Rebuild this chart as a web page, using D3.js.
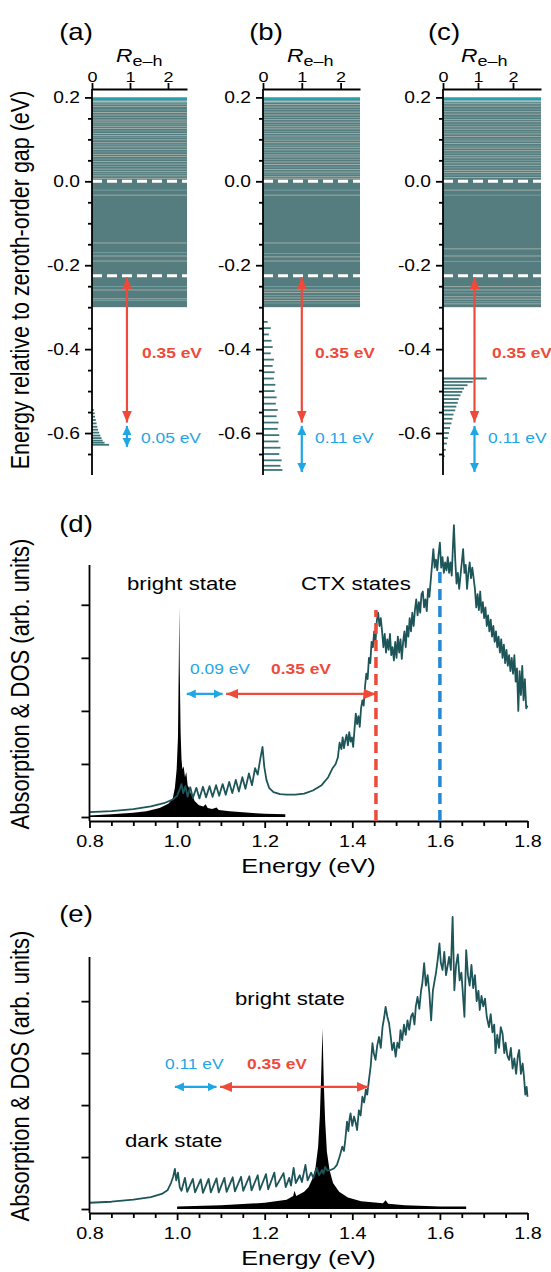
<!DOCTYPE html>
<html>
<head>
<meta charset="utf-8">
<script src="https://cdn.jsdelivr.net/npm/d3@7"></script>
<style>
  body { margin: 0; background: #fff; }
  svg { display: block; }
  text { font-family: "Liberation Sans", Arial, Helvetica, sans-serif; }
</style>
</head>
<body>
<div id="chart"></div>
<script>
// ---------- data ----------
const topLabels = ["(a)", "(b)", "(c)"];
const rehTicks = [0, 1, 2];
const energyTicks = [-0.6, -0.4, -0.2, 0.0, 0.2];
const energyMinor = [-0.65, -0.55, -0.5, -0.45, -0.35, -0.3, -0.25, -0.15, -0.1, -0.05, 0.05, 0.1, 0.15];
const bandTop = 0.2, bandBottom = -0.3;
const dashedLevels = [0.0, -0.225];
const redShift = 0.35;
const cyanShift = [0.05, 0.11, 0.11];

// pale gaps inside the dense band (eV)
const bandLinesA = [0.197, 0.19, 0.184, 0.178, 0.17, 0.164, 0.158, 0.152, 0.146, 0.141, 0.136, 0.131, 0.126, 0.12, 0.114, 0.109, 0.105, 0.099, 0.092, 0.087, 0.082, 0.076, 0.07, 0.064, 0.059, 0.053, 0.047, 0.041, 0.035, 0.029, 0.023, 0.018, 0.013, 0.007, -0.021, -0.033, -0.147, -0.17, -0.178, -0.19, -0.251, -0.259, -0.28, -0.284];
const bandLinesB = [0.197, 0.19, 0.183, 0.177, 0.171, 0.165, 0.158, 0.152, 0.147, 0.141, 0.135, 0.13, 0.125, 0.119, 0.114, 0.108, 0.103, 0.098, 0.092, 0.086, 0.081, 0.075, 0.069, 0.063, 0.058, 0.052, 0.046, 0.04, 0.034, 0.028, 0.022, 0.017, 0.011, 0.006, -0.021, -0.033, -0.147, -0.172, -0.18, -0.19, -0.251, -0.259, -0.265, -0.272, -0.278, -0.284, -0.29];
const bandLinesC = [0.197, 0.191, 0.185, 0.179, 0.172, 0.166, 0.16, 0.153, 0.147, 0.142, 0.136, 0.13, 0.124, 0.118, 0.113, 0.107, 0.101, 0.096, 0.09, 0.084, 0.079, 0.073, 0.067, 0.061, 0.056, 0.05, 0.044, 0.038, 0.032, 0.026, 0.021, 0.015, 0.009, -0.021, -0.033, -0.161, -0.178, -0.191, -0.251, -0.259, -0.266, -0.275, -0.281, -0.287, -0.292];

// sparse levels below the band: [energy (eV), R_e-h]
const levelsA = [[-0.545, 0.05], [-0.553, 0.07], [-0.561, 0.08], [-0.569, 0.1], [-0.577, 0.12], [-0.585, 0.14], [-0.592, 0.16], [-0.599, 0.19], [-0.606, 0.22], [-0.612, 0.25], [-0.618, 0.28], [-0.623, 0.33], [-0.628, 0.45]];
const levelsB = [[-0.335, 0.12], [-0.35, 0.2], [-0.365, 0.15], [-0.38, 0.22], [-0.395, 0.25], [-0.41, 0.2], [-0.425, 0.28], [-0.44, 0.25], [-0.455, 0.3], [-0.47, 0.28], [-0.485, 0.32], [-0.5, 0.3], [-0.515, 0.35], [-0.53, 0.33], [-0.545, 0.38], [-0.56, 0.35], [-0.575, 0.4], [-0.59, 0.38], [-0.605, 0.42], [-0.62, 0.4], [-0.635, 0.45], [-0.65, 0.42], [-0.665, 0.48], [-0.678, 0.45], [-0.688, 0.5]];
const levelsC = [[-0.47, 1.25], [-0.478, 0.85], [-0.486, 0.7], [-0.494, 0.6], [-0.502, 0.55], [-0.51, 0.5], [-0.519, 0.45], [-0.528, 0.42], [-0.537, 0.38], [-0.546, 0.35], [-0.556, 0.3], [-0.566, 0.27], [-0.577, 0.24], [-0.588, 0.2], [-0.6, 0.17], [-0.612, 0.14], [-0.625, 0.11], [-0.64, 0.08], [-0.655, 0.05]];

const energyAxisTicks = [0.8, 1.0, 1.2, 1.4, 1.6, 1.8];
const energyAxisMinor = [0.85, 0.9, 0.95, 1.05, 1.1, 1.15, 1.25, 1.3, 1.35, 1.45, 1.5, 1.55, 1.65, 1.7, 1.75];
const intensityTicks = [0, 1, 2, 3, 4];

// (d) absorption: [energy, arb. units]
const absD = [[0.80, 0.09], [0.85, 0.11], [0.90, 0.15], [0.94, 0.2], [0.97, 0.26], [0.99, 0.33], [1.000, 0.40], [1.006, 0.52], [1.010, 0.62], [1.014, 0.45], [1.019, 0.58], [1.024, 0.38], [1.030, 0.56], [1.036, 0.36], [1.044, 0.55], [1.051, 0.35], [1.059, 0.57], [1.066, 0.37], [1.074, 0.58], [1.081, 0.38], [1.089, 0.6], [1.096, 0.4], [1.104, 0.62], [1.111, 0.42], [1.119, 0.66], [1.126, 0.45], [1.134, 0.7], [1.141, 0.48], [1.149, 0.75], [1.156, 0.53], [1.164, 0.82], [1.171, 0.6], [1.178, 0.92], [1.184, 0.8], [1.190, 1.1], [1.195, 1.32], [1.199, 0.95], [1.204, 0.7], [1.210, 0.55], [1.22, 0.47], [1.235, 0.43], [1.25, 0.42], [1.27, 0.42], [1.29, 0.44], [1.31, 0.5], [1.33, 0.6], [1.345, 0.75], [1.355, 0.92], [1.362, 1.0], [1.367, 1.12], [1.371, 1.4], [1.375, 1.28], [1.378, 1.5], [1.381, 1.3], [1.384, 1.45], [1.387, 1.55], [1.390, 1.35], [1.393, 1.6], [1.396, 1.42], [1.399, 1.5], [1.402, 1.32], [1.405, 1.65], [1.408, 1.95], [1.411, 1.75], [1.414, 1.9], [1.417, 1.7], [1.420, 2.05], [1.423, 2.2], [1.426, 2.1], [1.429, 2.45], [1.432, 2.7], [1.435, 2.6], [1.438, 3.0], [1.441, 2.9], [1.444, 3.3], [1.447, 3.2], [1.450, 3.5], [1.453, 3.3], [1.456, 3.7], [1.459, 3.85], [1.462, 3.6], [1.465, 3.75], [1.468, 3.5], [1.471, 3.2], [1.474, 3.45], [1.477, 3.1], [1.480, 3.35], [1.483, 3.15], [1.486, 3.45], [1.489, 3.05], [1.492, 3.2], [1.495, 2.95], [1.498, 3.3], [1.501, 3.0], [1.504, 3.4], [1.507, 3.1], [1.510, 3.35], [1.513, 2.98], [1.516, 3.3], [1.519, 3.5], [1.522, 3.2], [1.525, 3.6], [1.528, 3.4], [1.531, 3.75], [1.534, 3.5], [1.537, 3.85], [1.540, 3.6], [1.543, 3.9], [1.546, 4.1], [1.549, 3.8], [1.552, 4.05], [1.555, 3.85], [1.558, 4.2], [1.561, 4.25], [1.564, 3.95], [1.567, 4.1], [1.570, 3.88], [1.573, 4.3], [1.576, 4.15], [1.579, 4.45], [1.582, 4.75], [1.585, 5.05], [1.588, 4.7], [1.591, 4.85], [1.594, 4.65], [1.597, 4.95], [1.600, 5.17], [1.603, 4.7], [1.606, 4.9], [1.609, 4.6], [1.612, 4.8], [1.615, 4.65], [1.618, 4.9], [1.621, 4.6], [1.624, 4.8], [1.627, 4.55], [1.630, 5.15], [1.632, 5.5], [1.635, 4.85], [1.638, 4.4], [1.641, 4.6], [1.644, 4.3], [1.647, 4.55], [1.650, 4.8], [1.653, 5.05], [1.656, 4.6], [1.659, 4.75], [1.662, 4.3], [1.665, 4.6], [1.668, 4.8], [1.671, 4.5], [1.674, 4.7], [1.677, 4.5], [1.680, 4.3], [1.683, 3.95], [1.686, 4.2], [1.689, 3.9], [1.692, 4.25], [1.695, 3.85], [1.698, 4.05], [1.701, 3.75], [1.704, 3.95], [1.707, 3.6], [1.710, 3.8], [1.713, 3.5], [1.716, 3.72], [1.719, 3.4], [1.722, 3.6], [1.725, 3.3], [1.728, 3.5], [1.731, 3.2], [1.734, 3.4], [1.737, 3.1], [1.740, 3.35], [1.743, 3.0], [1.746, 3.25], [1.749, 2.9], [1.752, 3.15], [1.755, 2.85], [1.758, 3.05], [1.761, 2.75], [1.764, 3.0], [1.767, 2.7], [1.770, 3.05], [1.773, 2.55], [1.776, 2.8], [1.779, 2.0], [1.782, 2.75], [1.785, 2.3], [1.788, 2.85], [1.791, 2.2], [1.794, 2.6], [1.797, 2.05], [1.800, 2.1]];

// (d) density of states
const dosD = [[0.80, 0.03], [0.85, 0.05], [0.90, 0.08], [0.93, 0.11], [0.96, 0.17], [0.98, 0.25], [0.99, 0.35], [0.995, 0.55], [0.999, 0.9], [1.002, 1.5], [1.004, 3.0], [1.005, 3.97], [1.006, 2.8], [1.008, 1.6], [1.010, 1.1], [1.012, 0.9], [1.015, 0.95], [1.018, 0.75], [1.021, 0.85], [1.024, 0.6], [1.027, 0.55], [1.031, 0.45], [1.036, 0.38], [1.04, 0.3], [1.05, 0.22], [1.06, 0.2], [1.065, 0.24], [1.07, 0.17], [1.08, 0.15], [1.09, 0.18], [1.095, 0.13], [1.12, 0.11], [1.15, 0.09], [1.18, 0.07], [1.2, 0.06], [1.247, 0.05]];

// (e) absorption
const absE = [[0.80, 0.12], [0.85, 0.14], [0.90, 0.18], [0.94, 0.23], [0.965, 0.29], [0.978, 0.36], [0.986, 0.5], [0.991, 0.62], [0.995, 0.77], [0.998, 0.55], [1.002, 0.7], [1.006, 0.42], [1.010, 0.35], [1.018, 0.6], [1.023, 0.33], [1.036, 0.58], [1.041, 0.32], [1.054, 0.57], [1.059, 0.31], [1.072, 0.58], [1.077, 0.32], [1.090, 0.59], [1.095, 0.32], [1.108, 0.6], [1.113, 0.33], [1.127, 0.61], [1.132, 0.34], [1.146, 0.62], [1.151, 0.35], [1.165, 0.63], [1.170, 0.36], [1.184, 0.65], [1.189, 0.37], [1.203, 0.67], [1.208, 0.38], [1.222, 0.7], [1.226, 0.43], [1.243, 0.69], [1.248, 0.42], [1.256, 0.6], [1.260, 0.45], [1.266, 0.79], [1.271, 0.5], [1.280, 0.65], [1.285, 0.52], [1.293, 0.85], [1.298, 0.55], [1.306, 0.7], [1.311, 0.6], [1.319, 0.79], [1.324, 0.65], [1.331, 0.75], [1.334, 0.68], [1.338, 0.81], [1.343, 0.74], [1.35, 0.75], [1.358, 0.78], [1.365, 0.85], [1.370, 0.98], [1.373, 1.07], [1.377, 1.2], [1.381, 1.12], [1.384, 1.33], [1.388, 1.68], [1.391, 1.5], [1.394, 1.75], [1.396, 1.84], [1.400, 1.6], [1.404, 1.78], [1.408, 1.65], [1.411, 1.52], [1.415, 1.9], [1.419, 1.8], [1.423, 2.16], [1.427, 2.05], [1.431, 2.3], [1.434, 2.2], [1.438, 2.48], [1.442, 2.75], [1.446, 3.19], [1.449, 3.0], [1.453, 2.87], [1.457, 3.15], [1.461, 3.31], [1.465, 3.1], [1.469, 3.5], [1.473, 3.7], [1.476, 3.89], [1.480, 3.7], [1.484, 3.57], [1.488, 3.3], [1.491, 3.06], [1.495, 3.2], [1.499, 2.93], [1.503, 3.2], [1.507, 3.1], [1.510, 3.44], [1.514, 3.25], [1.518, 3.55], [1.522, 3.35], [1.526, 3.63], [1.530, 3.45], [1.534, 3.7], [1.538, 3.77], [1.542, 3.55], [1.545, 3.9], [1.549, 4.08], [1.553, 3.85], [1.557, 4.2], [1.560, 4.35], [1.564, 4.73], [1.568, 4.3], [1.572, 4.5], [1.576, 4.15], [1.580, 3.63], [1.584, 4.2], [1.588, 4.4], [1.591, 4.54], [1.595, 4.8], [1.599, 5.11], [1.602, 4.75], [1.606, 4.6], [1.610, 4.95], [1.614, 4.5], [1.618, 4.7], [1.621, 4.85], [1.625, 4.6], [1.629, 5.62], [1.633, 4.21], [1.637, 4.7], [1.641, 4.9], [1.645, 4.4], [1.649, 4.55], [1.652, 4.2], [1.656, 3.7], [1.660, 4.98], [1.664, 4.5], [1.668, 4.3], [1.672, 4.7], [1.676, 4.25], [1.680, 4.5], [1.684, 4.0], [1.688, 4.2], [1.691, 3.83], [1.695, 4.1], [1.699, 3.9], [1.703, 4.05], [1.707, 3.7], [1.712, 3.5], [1.716, 3.75], [1.720, 3.4], [1.724, 3.55], [1.727, 3.0], [1.731, 3.35], [1.735, 3.1], [1.739, 3.5], [1.743, 3.38], [1.747, 3.0], [1.750, 3.2], [1.754, 2.95], [1.758, 2.87], [1.762, 3.1], [1.766, 2.7], [1.770, 2.9], [1.774, 2.6], [1.778, 2.95], [1.781, 3.06], [1.785, 2.6], [1.789, 2.8], [1.792, 2.54], [1.795, 2.2], [1.798, 2.35], [1.800, 2.16]];

// (e) density of states
const dosE = [[1.000, 0.05], [1.10, 0.07], [1.20, 0.12], [1.25, 0.18], [1.265, 0.25], [1.268, 0.35], [1.272, 0.25], [1.29, 0.33], [1.30, 0.42], [1.31, 0.6], [1.316, 0.8], [1.322, 1.2], [1.326, 1.8], [1.329, 2.6], [1.332, 3.47], [1.335, 2.4], [1.338, 1.7], [1.342, 1.1], [1.348, 0.75], [1.356, 0.5], [1.37, 0.33], [1.39, 0.22], [1.42, 0.15], [1.47, 0.11], [1.476, 0.17], [1.482, 0.1], [1.52, 0.07], [1.6, 0.05], [1.66, 0.05]];

// ---------- drawing ----------
const SX = 1.2; // the figure's lettering is drawn wide
const BAND = "#557c7e", LEVEL = "#3d7679", LINE = "#1d5559";
const RED = "#ee4a3a", CYAN = "#1ea6e6", BLUE = "#2388d6";
const AXW = 1.8;

const svg = d3.select("#chart").append("svg")
    .attr("width", 551)
    .attr("height", 1272);
svg.append("rect").attr("width", 551).attr("height", 1272).attr("fill", "#fff");

const defs = svg.append("defs");
function marker(id, color, w, h) {
    defs.append("marker")
        .attr("id", id)
        .attr("viewBox", "0 0 10 10")
        .attr("refX", 10).attr("refY", 5)
        .attr("markerWidth", w).attr("markerHeight", h)
        .attr("markerUnits", "userSpaceOnUse")
        .attr("preserveAspectRatio", "none")
        .attr("orient", "auto-start-reverse")
        .append("path")
        .attr("d", "M0,0L10,5L0,10Z")
        .attr("fill", color);
}
marker("headRed", RED, 12, 10);
marker("headCyan", CYAN, 9, 9);

function arrow(g, x1, y1, x2, y2, color, id) {
    g.append("line")
        .attr("x1", x1).attr("y1", y1).attr("x2", x2).attr("y2", y2)
        .attr("stroke", color).attr("stroke-width", 2.2)
        .attr("marker-start", `url(#${id})`)
        .attr("marker-end", `url(#${id})`);
}

function label(g, x, y, str, o = {}) {
    return g.append("text")
        .attr("transform", `translate(${x},${y}) scale(${SX},1)` + (o.rotate ? ` rotate(${o.rotate})` : ""))
        .attr("font-size", o.size || 14)
        .attr("font-weight", o.bold ? "bold" : null)
        .attr("fill", o.color || "#000")
        .attr("text-anchor", o.anchor || "start")
        .text(str);
}

function styleAxis(a, size) {
    a.attr("font-family", null).attr("font-size", size);
    a.selectAll("path, line").attr("stroke", "#000").attr("stroke-width", AXW);
    a.selectAll("text").attr("fill", "#000");
    a.selectAll(".tick text").each(function() {
        const t = d3.select(this);
        const x = +t.attr("x") || 0, y = +t.attr("y") || 0;
        t.attr("x", null).attr("y", null)
            .attr("transform", `translate(${x},${y}) scale(${SX},1)`);
    });
}

// ---- panels (a)-(c) ----
const topLayout = [
    { x0: 92, x1: 187, rMax: 2.5, lx: 76, title: 116, arrowR: 0.92, red: 142, cyan: 141 },
    { x0: 263, x1: 360, rMax: 2.5, lx: 266, title: 287, arrowR: 1.0, red: 315, cyan: 315 },
    { x0: 443, x1: 541, rMax: 2.8, lx: 444, title: 461, arrowR: 0.9, red: 492, cyan: 488 }
];
const bandLines = [bandLinesA, bandLinesB, bandLinesC];
const levels = [levelsA, levelsB, levelsC];

topLayout.forEach((P, i) => {
    const x = d3.scaleLinear().domain([0, P.rMax]).range([P.x0, P.x1]);
    const y = d3.scaleLinear().domain([-0.7, 0.22]).range([475, 89]);
    const g = svg.append("g");

    g.append("rect")
        .attr("x", x(0)).attr("y", y(bandTop))
        .attr("width", x(P.rMax) - x(0))
        .attr("height", y(bandBottom) - y(bandTop))
        .attr("fill", BAND);

    g.selectAll("line.gap")
        .data(bandLines[i])
        .join("line")
        .attr("class", "gap")
        .attr("x1", x(0)).attr("x2", x(P.rMax))
        .attr("y1", d => y(d)).attr("y2", d => y(d))
        .attr("stroke", (d, j) => j === 0 ? "#2aa2ad" : (j % 3 === 1 ? "#8fc6c9" : "#e8dfd2"))
        .attr("stroke-width", (d, j) => j < 2 ? 2 : 0.9)
        .attr("opacity", (d, j) => j < 2 ? 1 : 0.55);

    g.selectAll("line.lvl")
        .data(levels[i])
        .join("line")
        .attr("class", "lvl")
        .attr("x1", x(0)).attr("x2", d => x(d[1]))
        .attr("y1", d => y(d[0])).attr("y2", d => y(d[0]))
        .attr("stroke", LEVEL)
        .attr("stroke-width", 1.8);

    g.selectAll("line.dash")
        .data(dashedLevels)
        .join("line")
        .attr("class", "dash")
        .attr("x1", x(0)).attr("x2", x(P.rMax))
        .attr("y1", d => y(d)).attr("y2", d => y(d))
        .attr("stroke", "#fff")
        .attr("stroke-width", 3)
        .attr("stroke-dasharray", "10,5");

    const lower = dashedLevels[1];
    const ax = x(P.arrowR);
    arrow(g, ax, y(lower - 0.004), ax, y(lower - redShift), RED, "headRed");
    arrow(g, ax, y(lower - redShift - 0.008), ax, y(lower - redShift - 0.008 - cyanShift[i]), CYAN, "headCyan");

    label(g, P.red, 358, redShift.toFixed(2) + " eV", { size: 14.5, bold: true, color: RED });
    label(g, P.cyan, 443, cyanShift[i].toFixed(2) + " eV", { size: 14.5, color: CYAN });

    // axes
    g.append("g")
        .attr("transform", `translate(${P.x0},0)`)
        .call(d3.axisLeft(y).tickValues(energyMinor).tickSize(4).tickFormat(""))
        .call(a => a.select(".domain").remove())
        .call(a => styleAxis(a, 14));
    g.append("g")
        .attr("transform", `translate(${P.x0},0)`)
        .call(d3.axisLeft(y).tickValues(energyTicks).tickSize(7).tickPadding(5).tickFormat(d => d.toFixed(1)))
        .call(a => a.select(".domain").remove())
        .call(a => styleAxis(a, 16));
    g.append("line")
        .attr("x1", P.x0).attr("x2", P.x0)
        .attr("y1", y(0.22)).attr("y2", y(-0.7))
        .attr("stroke", "#000").attr("stroke-width", AXW);
    g.append("g")
        .attr("transform", `translate(0,${y(0.22)})`)
        .call(d3.axisTop(x).tickValues(rehTicks).tickSize(6).tickSizeOuter(0).tickPadding(1).tickFormat(d3.format("d")))
        .call(a => styleAxis(a, 15));

    const tt = g.append("text")
        .attr("transform", `translate(${P.title},62) scale(${SX},1)`)
        .attr("font-size", 19);
    tt.append("tspan").attr("font-style", "italic").text("R");
    tt.append("tspan").attr("font-size", 15).attr("dy", 4).text("e–h");

    label(g, P.lx, 40, topLabels[i], { size: 23, anchor: "middle" });
});

label(svg, 29, 280, "Energy relative to zeroth-order gap (eV)", { size: 21.5, rotate: -90, anchor: "middle" });

// ---- panels (d) and (e) ----
const bottomLayout = [
    { base: 817, top: 565, axisY: 821, vMax: 4.75, abs: absD, dos: dosD, name: "(d)", ly: 532, arrowV: 2.32 },
    { base: 1209, top: 957, axisY: 1213, vMax: 4.85, abs: absE, dos: dosE, name: "(e)", ly: 922, arrowV: 2.35 }
];

bottomLayout.forEach((P, k) => {
    const x = d3.scaleLinear().domain([0.8, 1.8]).range([89.5, 527.5]);
    const y = d3.scaleLinear().domain([0, P.vMax]).range([P.base, P.top]);
    const g = svg.append("g");

    g.append("path")
        .datum(P.dos)
        .attr("d", d3.area().x(d => x(d[0])).y0(y(0)).y1(d => y(d[1])))
        .attr("fill", "#000");

    g.append("path")
        .datum(P.abs)
        .attr("d", d3.line().x(d => x(d[0])).y(d => y(d[1])))
        .attr("fill", "none")
        .attr("stroke", LINE)
        .attr("stroke-width", 1.8)
        .attr("stroke-linejoin", "round");

    // axes
    g.append("g")
        .attr("transform", `translate(0,${P.axisY})`)
        .call(d3.axisBottom(x).tickValues(energyAxisMinor).tickSize(5).tickFormat(""))
        .call(a => a.select(".domain").remove())
        .call(a => styleAxis(a, 16));
    g.append("g")
        .attr("transform", `translate(0,${P.axisY})`)
        .call(d3.axisBottom(x).tickValues(energyAxisTicks).tickSize(7).tickSizeOuter(0).tickPadding(7).tickFormat(d => d.toFixed(1)))
        .call(a => styleAxis(a, 16.5));
    g.append("g")
        .attr("transform", `translate(${x(0.8)},0)`)
        .call(d3.axisLeft(y).tickValues(intensityTicks).tickSize(8).tickFormat(""))
        .call(a => a.select(".domain").remove())
        .call(a => styleAxis(a, 14));
    g.append("line")
        .attr("x1", x(0.8)).attr("x2", x(0.8))
        .attr("y1", P.top).attr("y2", P.axisY)
        .attr("stroke", "#000").attr("stroke-width", AXW);

    label(g, 308.5, P.axisY + 52, "Energy (eV)", { size: 21, anchor: "middle" });
    label(g, 29, (P.top + P.axisY) / 2 - 9, "Absorption & DOS (arb. units)", { size: 22, rotate: -90, anchor: "middle" });
    label(g, 76, P.ly, P.name, { size: 23, anchor: "middle" });

    const ay = y(P.arrowV);
    if (k === 0) {
        // charge-transfer markers
        g.append("line")
            .attr("x1", x(1.454)).attr("x2", x(1.454))
            .attr("y1", P.axisY).attr("y2", y(3.9))
            .attr("stroke", RED).attr("stroke-width", 3.5).attr("stroke-dasharray", "11,6");
        g.append("line")
            .attr("x1", x(1.6)).attr("x2", x(1.6))
            .attr("y1", P.axisY).attr("y2", y(4.62))
            .attr("stroke", BLUE).attr("stroke-width", 3.5).attr("stroke-dasharray", "11,6");
        arrow(g, x(1.022), ay, x(1.104), ay, CYAN, "headCyan");
        arrow(g, x(1.112), ay, x(1.454), ay, RED, "headRed");
        label(g, 190, 674, "0.09 eV", { size: 14.5, color: CYAN });
        label(g, 271, 674, "0.35 eV", { size: 14.5, bold: true, color: RED });
        label(g, 127, 590, "bright state", { size: 18.5 });
        label(g, 301, 590, "CTX states", { size: 18.5 });
    } else {
        arrow(g, x(0.995), ay, x(1.09), ay, CYAN, "headCyan");
        arrow(g, x(1.098), ay, x(1.437), ay, RED, "headRed");
        label(g, 165, 1069, "0.11 eV", { size: 14.5, color: CYAN });
        label(g, 247, 1069, "0.35 eV", { size: 14.5, bold: true, color: RED });
        label(g, 235, 1005, "bright state", { size: 18.5 });
        label(g, 125, 1147, "dark state", { size: 18.5 });
    }
});
</script>
</body>
</html>
